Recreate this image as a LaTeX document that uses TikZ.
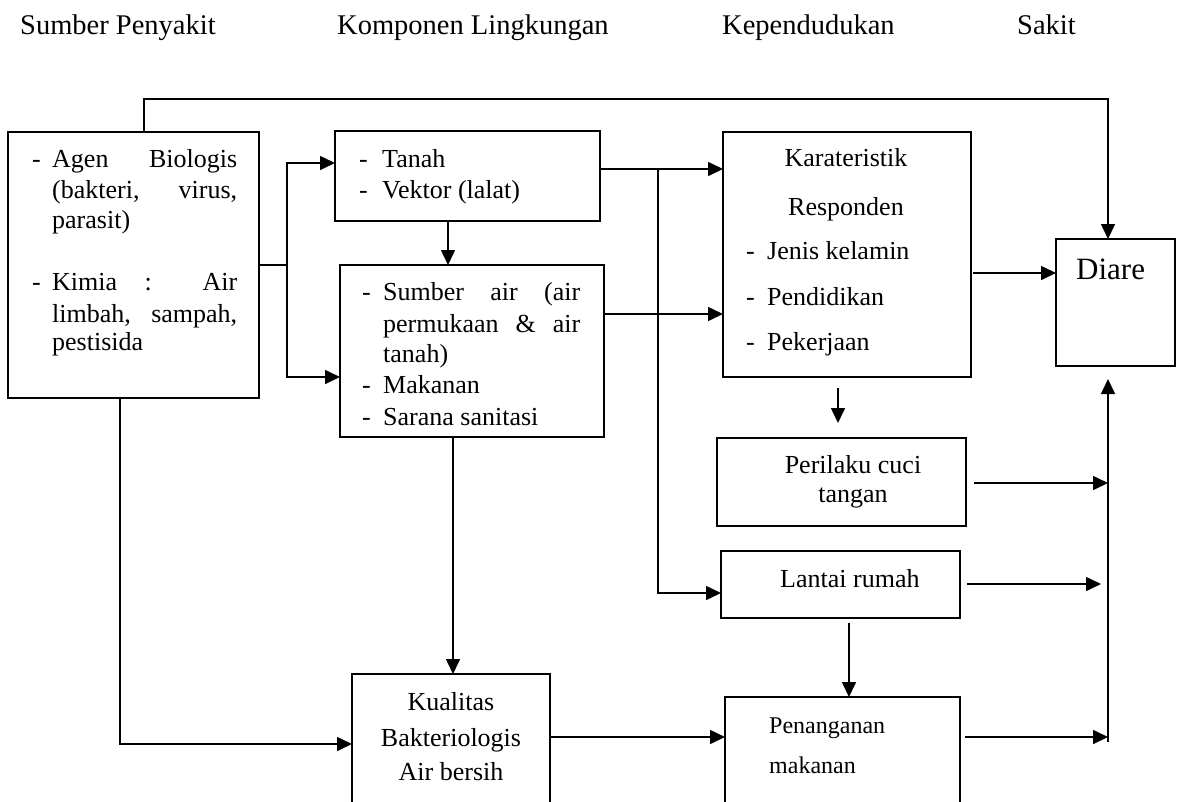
\documentclass[tikz,border=0pt]{standalone}
\usepackage{fontspec}
\setmainfont{Liberation Serif}
\usetikzlibrary{arrows.meta}
\begin{document}
\begin{tikzpicture}[x=1pt,y=-1pt,
  box/.style={draw, line width=1.6pt, anchor=north west, inner sep=0pt, outer sep=0pt},
  txt/.style={anchor=base west, inner sep=0pt, font=\fontsize{26}{31}\selectfont},
  ctxt/.style={anchor=base, inner sep=0pt, font=\fontsize{26}{31}\selectfont},
  hdr/.style={anchor=base west, inner sep=0pt, font=\fontsize{28.5}{34}\selectfont},
  arr/.style={line width=1.6pt, -{Triangle[length=15pt,width=14pt]}},
  ln/.style={line width=1.6pt}]
\useasboundingbox (0,0) rectangle (1178,801);
\clip (0,0) rectangle (1178,801);
\fill[white] (0,0) rectangle (1178,801);
% headers
\node[hdr] (h1) at (20,34) {Sumber Penyakit};
\node[hdr] (h2) at (337,34) {Komponen Lingkungan};
\node[hdr] (h3) at (722,34) {Kependudukan};
\node[hdr] (h4) at (1017,34) {Sakit};
% boxes
\node[box, minimum width=251pt, minimum height=266pt] (src) at (8,132) {};
\node[box, minimum width=265pt, minimum height=90pt] (tanah) at (335,131) {};
\node[box, minimum width=264pt, minimum height=172pt] (sumber) at (340,265) {};
\node[box, minimum width=248pt, minimum height=245pt] (kar) at (723,132) {};
\node[box, minimum width=119pt, minimum height=127pt] (diare) at (1056,239) {};
\node[box, minimum width=249pt, minimum height=88pt] (peril) at (717,438) {};
\node[box, minimum width=239pt, minimum height=67pt] (lantai) at (721,551) {};
\node[box, minimum width=198pt, minimum height=160pt] (kual) at (352,674) {};
\node[box, minimum width=235pt, minimum height=140pt] (penang) at (725,697) {};
% source text
\node[txt] (sd1) at (32,167) {-};
\node[txt] (sd2) at (32,290) {-};
\node[txt] (s1) at (52,167) {\makebox[185pt][s]{Agen Biologis}};
\node[txt] (s2) at (52,198) {\makebox[185pt][s]{(bakteri, virus,}};
\node[txt] (s3) at (52,228) {parasit)};
\node[txt] (s4) at (52,290) {\makebox[185pt][s]{Kimia : Air}};
\node[txt] (s5) at (52,322) {\makebox[185pt][s]{limbah, sampah,}};
\node[txt] (s6) at (52,350) {pestisida};
% tanah text
\node[txt] (td1) at (359,167) {-};
\node[txt] (td2) at (359,198) {-};
\node[txt] (t1t) at (382,167) {Tanah};
\node[txt] (t2t) at (382,198) {Vektor (lalat)};
% sumber text
\node[txt] (ud1) at (362,300) {-};
\node[txt] (ud2) at (362,393) {-};
\node[txt] (ud3) at (362,425) {-};
\node[txt] (u1) at (383,300) {\makebox[197pt][s]{Sumber air (air}};
\node[txt] (u2) at (383,332) {\makebox[197pt][s]{permukaan \& air}};
\node[txt] (u3) at (383,362) {tanah)};
\node[txt] (u4) at (383,393) {Makanan};
\node[txt] (u5) at (383,425) {Sarana sanitasi};
% karakteristik text
\node[ctxt] (k1t) at (846,166) {Karateristik};
\node[ctxt] (k2t) at (846,215) {Responden};
\node[txt] (kd1) at (746,259) {-};
\node[txt] (kd2) at (746,305) {-};
\node[txt] (kd3) at (746,350) {-};
\node[txt] (k3t) at (767,259) {Jenis kelamin};
\node[txt] (k4t) at (767,305) {Pendidikan};
\node[txt] (k5t) at (767,350) {Pekerjaan};
% diare
\node[anchor=base west, inner sep=0pt, font=\fontsize{31}{36}\selectfont] (dt) at (1076,279) {Diare};
% perilaku
\node[ctxt] (p1t) at (853,473) {Perilaku cuci};
\node[ctxt] (p2t) at (853,502) {tangan};
% lantai
\node[txt] (lt) at (780,587) {Lantai rumah};
% kualitas
\node[ctxt] (q1t) at (451,710) {Kualitas};
\node[ctxt] (q2t) at (451,746) {Bakteriologis};
\node[ctxt] (q3t) at (451,780) {Air bersih};
% penanganan
\node[anchor=base west, inner sep=0pt, font=\fontsize{24}{29}\selectfont] (n1t) at (769,733) {Penanganan};
\node[anchor=base west, inner sep=0pt, font=\fontsize{24}{29}\selectfont] (n2t) at (769,773) {makanan};
% connectors
\coordinate (ta) at (144,99);
\coordinate (tb) at (1108,99);
\draw[arr] (src.north -| ta) -- (ta) -- (tb) -- (diare.north -| tb);
\coordinate (b1) at (287,265);
\coordinate (a1) at (287,163);
\coordinate (a2) at (287,377);
\draw[ln] (src.east |- b1) -- (b1);
\draw[arr] (b1) -- (a1) -- (tanah.west |- a1);
\draw[arr] (b1) -- (a2) -- (sumber.west |- a2);
\coordinate (c1) at (448,0);
\draw[arr] (tanah.south -| c1) -- (sumber.north -| c1);
\coordinate (m1) at (658,169);
\coordinate (m2) at (658,593);
\draw[arr] (tanah.east |- m1) -- (kar.west |- m1);
\draw[arr] (m1) -- (m2) -- (lantai.west |- m2);
\coordinate (m3) at (0,314);
\draw[arr] (sumber.east |- m3) -- (kar.west |- m3);
\coordinate (m4) at (0,273);
\draw[arr, shorten <=2pt] (kar.east |- m4) -- (diare.west |- m4);
\coordinate (c2) at (838,0);
\draw[arr, shorten <=11pt, shorten >=15pt] (kar.south -| c2) -- (peril.north -| c2);
\coordinate (p1) at (1108,483);
\draw[arr, shorten <=8pt] (peril.east |- p1) -- (p1);
\coordinate (p2) at (1101,584);
\draw[arr, shorten <=7pt] (lantai.east |- p2) -- (p2);
\coordinate (p3) at (1108,737);
\draw[arr, shorten <=5pt] (penang.east |- p3) -- (p3);
\coordinate (p4) at (1108,742);
\draw[arr, shorten >=13pt] (p4) -- (diare.south -| p4);
\coordinate (c3) at (849,0);
\draw[arr, shorten <=5pt] (lantai.south -| c3) -- (penang.north -| c3);
\coordinate (c4) at (453,0);
\draw[arr] (sumber.south -| c4) -- (kual.north -| c4);
\coordinate (q1) at (120,744);
\draw[arr] (src.south -| q1) -- (q1) -- (kual.west |- q1);
\coordinate (q2) at (0,737);
\draw[arr] (kual.east |- q2) -- (penang.west |- q2);
\end{tikzpicture}
\end{document}
